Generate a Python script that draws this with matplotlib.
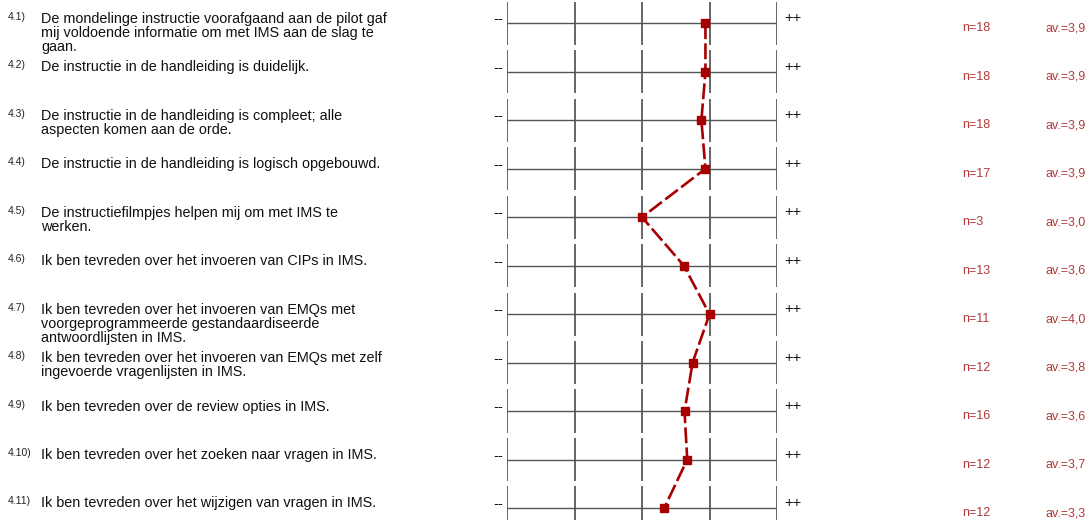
import numpy as np
import matplotlib.pyplot as plt

plt.rcParams['font.family'] = ['Liberation Sans', 'DejaVu Sans']

numbers = ['4.1)', '4.2)', '4.3)', '4.4)', '4.5)', '4.6)', '4.7)', '4.8)', '4.9)', '4.10)', '4.11)']
questions = [
    'De mondelinge instructie voorafgaand aan de pilot gaf\nmij voldoende informatie om met IMS aan de slag te\ngaan.',
    'De instructie in de handleiding is duidelijk.',
    'De instructie in de handleiding is compleet; alle\naspecten komen aan de orde.',
    'De instructie in de handleiding is logisch opgebouwd.',
    'De instructiefilmpjes helpen mij om met IMS te\nwerken.',
    'Ik ben tevreden over het invoeren van CIPs in IMS.',
    'Ik ben tevreden over het invoeren van EMQs met\nvoorgeprogrammeerde gestandaardiseerde\nantwoordlijsten in IMS.',
    'Ik ben tevreden over het invoeren van EMQs met zelf\ningevoerde vragenlijsten in IMS.',
    'Ik ben tevreden over de review opties in IMS.',
    'Ik ben tevreden over het zoeken naar vragen in IMS.',
    'Ik ben tevreden over het wijzigen van vragen in IMS.',
]
means = [3.94, 3.94, 3.88, 3.94, 3.0, 3.62, 4.0, 3.75, 3.63, 3.67, 3.33]
n_resp = [18, 18, 18, 17, 3, 13, 11, 12, 16, 12, 12]
av_text = ['3,9', '3,9', '3,9', '3,9', '3,0', '3,6', '4,0', '3,8', '3,6', '3,7', '3,3']

W, H = 1091, 520
fig = plt.figure(figsize=(W / 100, H / 100), dpi=100)

# chart area in pixels
x0, x1 = 507, 777
row0, step = 23.3, 48.47
ax = fig.add_axes([x0 / W, 0, (x1 - x0) / W, 1])
ax.set_xlim(1, 5)
ax.set_ylim((H - row0) / step, -row0 / step)
ax.axis('off')

rows = np.arange(len(means))
for i in rows:
    ax.vlines([1, 2, 3, 4, 5], i - 0.445, i + 0.445, color='#666666', lw=1.4, zorder=1)
    ax.hlines(i, 1, 5, color='#555555', lw=1.0, zorder=1)

ax.plot(means, rows, color='#a80000', lw=1.9, dashes=(6, 1.6),
        marker='s', markersize=6, zorder=3, clip_on=False)

# text columns
def px(x, y):
    return x / W, 1 - y / H

red = '#b03a3a'
for i in rows:
    yr = row0 + step * i
    fig.text(*px(8, yr - 3.5), numbers[i], fontsize=7.5, va='baseline', ha='left', color='#222222')
    fig.text(*px(41, yr - 11.5), questions[i], fontsize=10.4, va='top', ha='left',
             linespacing=1.0, color='#111111')
    fig.text(*px(503, yr - 4), '--', fontsize=10.5, va='center', ha='right', color='#111111')
    fig.text(*px(784, yr - 5), '++', fontsize=10.5, va='center', ha='left', color='#111111')
    fig.text(*px(962, yr + 5), 'n=%d' % n_resp[i], fontsize=9, va='center', ha='left', color=red)
    fig.text(*px(1045, yr + 5), 'av.=' + av_text[i], fontsize=9, va='center', ha='left', color=red)

fig.savefig('out.png', dpi=100)
